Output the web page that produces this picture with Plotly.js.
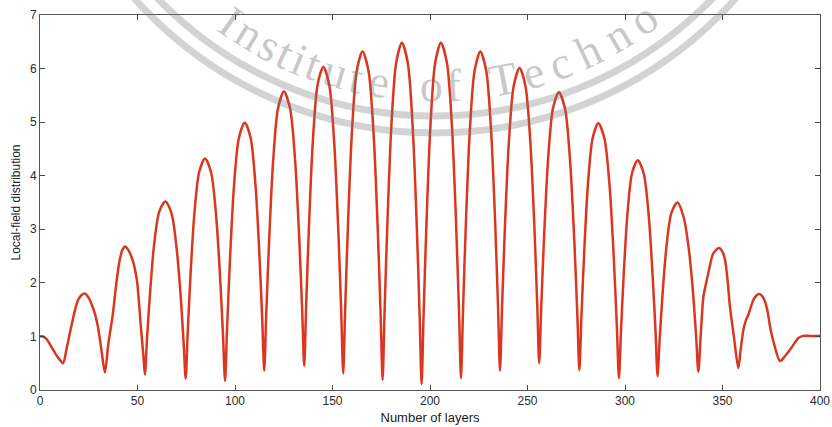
<!DOCTYPE html>
<html>
<head>
<meta charset="utf-8">
<script src="https://cdn.plot.ly/plotly-3.0.1.min.js"></script>
<style>
  html, body { margin: 0; padding: 0; background: #ffffff; }
  #chart { width: 832px; height: 427px; }
</style>
</head>
<body>
<div id="chart"></div>
<script>
// Local-field distribution along the multilayer stack
const layerX = [
  0, 1.5, 3.2, 5.5, 8.4, 10.2, 11.8,
  13.8, 16.0, 18.0, 19.5, 21.2, 22.9, 25.0, 27.2, 28.5, 29.7, 31.5, 33.3,
  35.0, 37.4, 39.0, 40.9, 42.3, 43.7, 45.5, 47.7, 49.0, 49.9, 51.8, 53.0, 53.8,
  54.85, 56.43, 58.5, 61.15, 64.3, 67.42, 70.02, 72.1, 73.66, 74.7,
  75.69, 77.18, 79.16, 81.63, 84.6, 87.69, 90.26, 92.33, 93.87, 94.9,
  95.91, 97.43, 99.45, 101.97, 105.0, 108.0, 110.5, 112.5, 114.0, 115.0,
  116.01, 117.53, 119.55, 122.07, 125.1, 128.22, 130.82, 132.9, 134.46, 135.5,
  136.48, 137.95, 139.91, 142.36, 145.3, 148.36, 150.91, 152.95, 154.48, 155.5,
  156.49, 157.98, 159.96, 162.43, 165.4, 168.49, 171.06, 173.13, 174.67, 175.7,
  176.69, 178.18, 180.16, 182.63, 185.6, 188.63, 191.15, 193.18, 194.69, 195.7,
  196.69, 198.18, 200.16, 202.63, 205.6, 208.69, 211.26, 213.33, 214.87, 215.9,
  216.89, 218.38, 220.36, 222.83, 225.8, 228.83, 231.35, 233.38, 234.89, 235.9,
  236.9, 238.4, 240.4, 242.9, 245.9, 248.93, 251.45, 253.48, 254.99, 256.0,
  257.01, 258.53, 260.55, 263.07, 266.1, 269.25, 271.87, 273.98, 275.55, 276.6,
  277.57, 279.03, 280.97, 283.39, 286.3, 289.48, 292.13, 294.25, 295.84, 296.9,
  297.86, 299.3, 301.22, 303.62, 306.5, 309.56, 312.11, 314.15, 315.68, 316.7,
  317.72, 319.25, 321.29, 323.84, 326.9, 330.1, 332.78, 334.93, 336.53, 337.6,
  338.8, 340.2, 341.5, 342.7, 345.3, 348.2, 350.0, 351.3, 352.6, 353.8, 356.0, 358.1,
  359.3, 360.7, 362.0, 363.2, 365.8, 367.3, 368.9, 370.4, 371.8, 373.2, 374.4, 376.5, 379.5,
  382.0, 384.6, 387.0, 388.9, 391.4, 395.0, 400
];
const fieldY = [
  1.00, 1.00, 0.96, 0.83, 0.65, 0.56, 0.50,
  0.80, 1.18, 1.50, 1.68, 1.77, 1.80, 1.72, 1.53, 1.38, 1.18, 0.75, 0.33,
  0.85, 1.43, 1.95, 2.43, 2.62, 2.68, 2.60, 2.40, 2.20, 1.99, 1.15, 0.65, 0.29,
  0.94, 1.81, 2.71, 3.33, 3.52, 3.30, 2.66, 1.77, 0.87, 0.21,
  1.03, 2.14, 3.29, 4.07, 4.32, 4.07, 3.28, 2.12, 1.00, 0.17,
  1.13, 2.44, 3.79, 4.70, 4.99, 4.71, 3.83, 2.54, 1.29, 0.36,
  1.40, 2.81, 4.27, 5.26, 5.57, 5.26, 4.29, 2.86, 1.47, 0.45,
  1.57, 3.07, 4.64, 5.70, 6.03, 5.69, 4.60, 3.00, 1.45, 0.31,
  1.51, 3.13, 4.82, 5.96, 6.32, 5.95, 4.79, 3.07, 1.42, 0.19,
  1.45, 3.15, 4.91, 6.10, 6.48, 6.10, 4.89, 3.10, 1.38, 0.11,
  1.38, 3.10, 4.89, 6.10, 6.48, 6.10, 4.92, 3.16, 1.47, 0.22,
  1.44, 3.09, 4.80, 5.95, 6.32, 5.96, 4.83, 3.16, 1.55, 0.36,
  1.49, 3.02, 4.60, 5.67, 6.01, 5.68, 4.63, 3.09, 1.60, 0.50,
  1.51, 2.88, 4.30, 5.26, 5.56, 5.25, 4.26, 2.81, 1.41, 0.37,
  1.29, 2.54, 3.83, 4.70, 4.98, 4.69, 3.79, 2.46, 1.17, 0.22,
  1.03, 2.13, 3.27, 4.05, 4.29, 4.05, 3.28, 2.15, 1.07, 0.26,
  0.91, 1.78, 2.69, 3.31, 3.50, 3.22, 2.62, 1.80, 0.97, 0.34,
  1.00, 1.74, 1.98, 2.18, 2.55, 2.65, 2.58, 2.43, 2.05, 1.56, 0.95, 0.41,
  0.75, 1.12, 1.30, 1.40, 1.68, 1.76, 1.79, 1.75, 1.65, 1.45, 1.18, 0.85, 0.54,
  0.63, 0.75, 0.88, 0.97, 1.01, 1.01, 1.01
];
const xTicks = [0, 50, 100, 150, 200, 250, 300, 350, 400];
const yTicks = [0, 1, 2, 3, 4, 5, 6, 7];
const sealText = "Institute of Techno";

// plot box in page pixels
const M = { l: 40, r: 12, t: 15, b: 37 };
const W = 832, H = 427;
const plotW = W - M.l - M.r, plotH = H - M.t - M.b;
const px2x = p => (p - M.l) / plotW;
const px2y = p => (H - M.b - p) / plotH;

// faint seal stamped across the upper part of the figure
const sealCx = 435, sealCy = -270;
const ringRadii = [386, 403];
const ringColor = 'rgba(120,120,120,0.33)';
const shapes = ringRadii.map(r => ({
  type: 'circle', xref: 'paper', yref: 'paper', layer: 'above',
  x0: px2x(sealCx - r), x1: px2x(sealCx + r),
  y0: px2y(sealCy + r), y1: px2y(sealCy - r),
  line: { color: ringColor, width: 7 }, fillcolor: 'rgba(0,0,0,0)'
}));

// angular position (degrees from straight down) of each letter of the seal text
const letterAngles = [-35.0, -31.4, -27.7, -24.8, -22.4, -19.9, -16.3, -12.7, -9.1,
  null, -0.5, 3.0, null, 11.0, 16.0, 20.5, 25.5, 30.8, 35.8];
const letterRadius = 356;
const annotations = [];
sealText.split('').forEach((ch, i) => {
  const a = letterAngles[i];
  if (a === null || ch === ' ') return;
  const rad = a * Math.PI / 180;
  const lx = sealCx + letterRadius * Math.sin(rad);
  const ly = sealCy + letterRadius * Math.cos(rad);
  annotations.push({
    text: ch, xref: 'paper', yref: 'paper', x: px2x(lx), y: px2y(ly),
    xanchor: 'center', yanchor: 'middle', showarrow: false, textangle: -a,
    font: { family: 'Liberation Serif, DejaVu Serif, serif', size: 46, color: 'rgba(110,110,110,0.38)' }
  });
});

const axisFont = { family: 'Liberation Sans, Arial, sans-serif', size: 12, color: '#2b2b2b' };

const trace = {
  x: layerX, y: fieldY, type: 'scatter', mode: 'lines',
  line: { color: '#da3620', width: 2.5, shape: 'spline', smoothing: 0.8 },
  hoverinfo: 'skip'
};

const layout = {
  width: W, height: H,
  margin: M,
  paper_bgcolor: '#ffffff', plot_bgcolor: '#ffffff',
  showlegend: false,
  font: axisFont,
  xaxis: {
    range: [0, 400], tickvals: xTicks, ticktext: xTicks.map(String),
    ticks: 'inside', ticklen: 5, tickwidth: 1, tickcolor: '#444',
    showline: true, linecolor: '#555', linewidth: 1, mirror: 'ticks',
    showgrid: false, zeroline: false, tickfont: axisFont,
    title: { text: 'Number of layers', font: { family: 'Liberation Sans, Arial, sans-serif', size: 13, color: '#222' }, standoff: 5 }
  },
  yaxis: {
    range: [0, 7], tickvals: yTicks, ticktext: yTicks.map(String),
    ticks: 'inside', ticklen: 5, tickwidth: 1, tickcolor: '#444',
    showline: true, linecolor: '#555', linewidth: 1, mirror: 'ticks',
    showgrid: false, zeroline: false, tickfont: axisFont,
    title: { text: 'Local-field distribution', font: { family: 'Liberation Sans, Arial, sans-serif', size: 12, color: '#222' }, standoff: 6 }
  },
  shapes: shapes,
  annotations: annotations
};

Plotly.newPlot('chart', [trace], layout, { staticPlot: true, displayModeBar: false });
</script>
</body>
</html>
